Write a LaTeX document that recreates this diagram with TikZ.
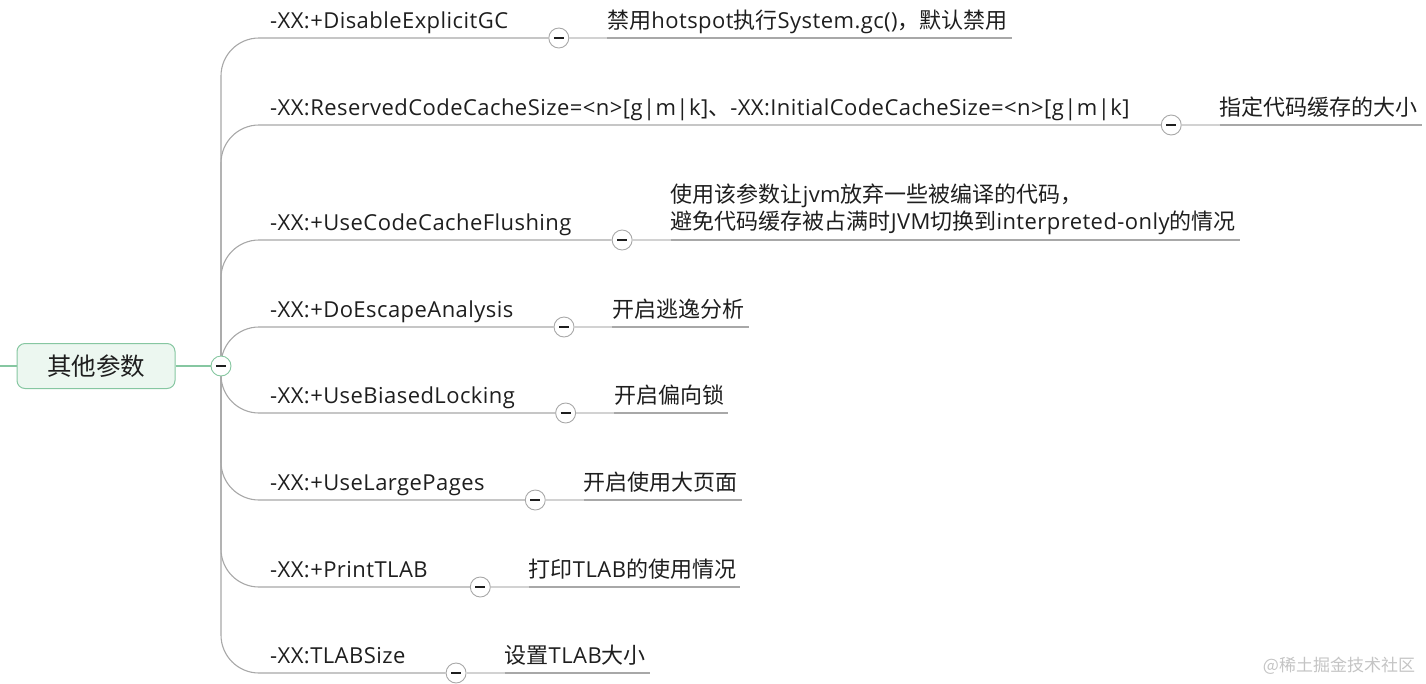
\documentclass[tikz,border=0pt]{standalone}
\usepackage{fontspec}
\setmainfont{Open Sans}[LetterSpace=2]
\newfontfamily\cjkfont{Noto Sans CJK SC}
\newcommand{\zh}[1]{{\cjkfont\fontsize{22}{27}\selectfont #1}}
\usetikzlibrary{positioning,backgrounds}

\definecolor{lineg}{HTML}{A8A8A8}
\definecolor{lightg}{HTML}{D2D2D2}
\definecolor{rootg}{HTML}{86C7A1}
\definecolor{rootfill}{HTML}{ECF7F0}
\definecolor{inkc}{HTML}{1E1E1E}
\definecolor{markg}{HTML}{C4C4C4}

\tikzset{
  topic/.style={draw=rootg, fill=rootfill, rounded corners=8pt, line width=1pt,
    minimum width=158pt, minimum height=45pt, text=inkc,
    font=\cjkfont\fontsize{24.5}{28}\selectfont},
  param/.style={anchor=south west, inner sep=0pt, text depth=9pt, text=inkc,
    font=\fontsize{22}{27}\selectfont},
  fold/.style={circle, draw=lineg, fill=white, line width=0.9pt, minimum size=20pt,
    inner sep=0pt, path picture={\draw[inkc, line width=1.1pt]
      ([xshift=-5pt]path picture bounding box.center) --
      ([xshift=5pt]path picture bounding box.center);}},
  branch/.style={draw=lineg, line width=1.1pt, rounded corners=38pt},
  twig/.style={draw=lightg, line width=1.6pt},
  uline/.style={draw=lineg, line width=1.1pt},
  rootline/.style={draw=rootg, line width=1.1pt}
}

\begin{document}
\begin{tikzpicture}[x=1pt,y=-1pt]
\useasboundingbox (0,0) rectangle (1426,683);

% root
\node[topic] (other) at (96,366) {其他参数};
\node[fold, draw=rootg] (other-c) at (221,366) {};
\coordinate (in) at (0,366);
\draw[rootline] (in) -- (other.west);
\draw[rootline] (other.east) -- (other-c.west);

% parameters
\node[param] (gc) at (270,38) {-XX:+DisableExplicitGC};
\node[param] (ccs) at (270,125) {-XX:ReservedCodeCacheSize=<n>[g|m|k]\zh{、}-XX:InitialCodeCacheSize=<n>[g|m|k]};
\node[param] (flush) at (270,240) {-XX:+UseCodeCacheFlushing};
\node[param] (esc) at (270,327) {-XX:+DoEscapeAnalysis};
\node[param] (bias) at (270,413) {-XX:+UseBiasedLocking};
\node[param] (large) at (270,500) {-XX:+UseLargePages};
\node[param] (ptlab) at (270,587) {-XX:+PrintTLAB};
\node[param] (tlab) at (270,673) {-XX:TLABSize};

\node[fold, right=40pt of gc.south east] (gc-c) {};
\node[fold, right=31pt of ccs.south east] (ccs-c) {};
\node[fold, right=40pt of flush.south east] (flush-c) {};
\node[fold, right=40pt of esc.south east] (esc-c) {};
\node[fold, right=40pt of bias.south east] (bias-c) {};
\node[fold, right=40pt of large.south east] (large-c) {};
\node[fold, right=42pt of ptlab.south east] (ptlab-c) {};
\node[fold, right=40pt of tlab.south east] (tlab-c) {};

% notes
\node[param, right=38pt of gc-c.east, anchor=south west] (gc-d) {\zh{禁用}hotspot\zh{执行}System.gc()\zh{，默认禁用}};
\node[param, right=38pt of ccs-c.east, anchor=south west] (ccs-d) {\zh{指定代码缓存的大小}};
\node[param, right=38pt of flush-c.east, anchor=south west, text depth=, align=left,
  yshift=5pt] (flush-d) {\zh{使用该参数让}jvm\zh{放弃一些被编译的代码，}\\\zh{避免代码缓存被占满时}JVM\zh{切换到}interpreted-only\zh{的情况}};
\node[param, right=38pt of esc-c.east, anchor=south west] (esc-d) {\zh{开启逃逸分析}};
\node[param, right=38pt of bias-c.east, anchor=south west] (bias-d) {\zh{开启偏向锁}};
\node[param, right=38pt of large-c.east, anchor=south west] (large-d) {\zh{开启使用大页面}};
\node[param, right=38pt of ptlab-c.east, anchor=south west] (ptlab-d) {\zh{打印}TLAB\zh{的使用情况}};
\node[param, right=38pt of tlab-c.east, anchor=south west] (tlab-d) {\zh{设置}TLAB\zh{大小}};

\begin{scope}[on background layer]
\draw[branch] (other-c.center) |- (gc-c.west);
\draw[branch] (other-c.center) |- (ccs-c.west);
\draw[branch] (other-c.center) |- (flush-c.west);
\draw[branch] (other-c.center) |- (esc-c.west);
\draw[branch] (other-c.center) |- (bias-c.west);
\draw[branch] (other-c.center) |- (large-c.west);
\draw[branch] (other-c.center) |- (ptlab-c.west);
\draw[branch] (other-c.center) |- (tlab-c.west);
\end{scope}

\draw[twig] (gc-c.east) -- (gc-d.south west);
\draw[twig] (ccs-c.east) -- (ccs-d.south west);
\draw[twig] (flush-c.east) -- ([yshift=-5pt]flush-d.south west);
\draw[twig] (esc-c.east) -- (esc-d.south west);
\draw[twig] (bias-c.east) -- (bias-d.south west);
\draw[twig] (large-c.east) -- (large-d.south west);
\draw[twig] (ptlab-c.east) -- (ptlab-d.south west);
\draw[twig] (tlab-c.east) -- (tlab-d.south west);

\draw[uline] (gc-d.south west) -- ([xshift=4pt]gc-d.south east);
\draw[uline] (ccs-d.south west) -- ([xshift=4pt]ccs-d.south east);
\draw[uline] ([yshift=-5pt]flush-d.south west) -- ([xshift=4pt,yshift=-5pt]flush-d.south east);
\draw[uline] (esc-d.south west) -- ([xshift=4pt]esc-d.south east);
\draw[uline] (bias-d.south west) -- ([xshift=4pt]bias-d.south east);
\draw[uline] (large-d.south west) -- ([xshift=4pt]large-d.south east);
\draw[uline] (ptlab-d.south west) -- ([xshift=4pt]ptlab-d.south east);
\draw[uline] (tlab-d.south west) -- ([xshift=4pt]tlab-d.south east);

\node[text=markg, font=\cjkfont\fontsize{17}{20}\selectfont] (wm) at (1339,666) {@稀土掘金技术社区};
\end{tikzpicture}
\end{document}
